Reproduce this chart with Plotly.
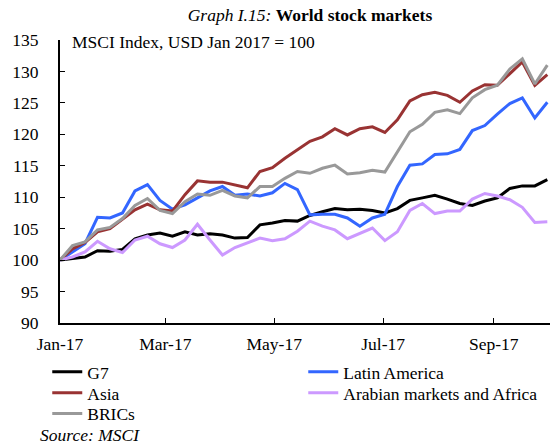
import pandas as pd
import plotly.graph_objs as go

# weekly MSCI indices, USD, Jan 2017 = 100
dates = pd.date_range('2017-01-01', periods=40, freq='7D')

g7 = [100.0, 100.2, 100.5, 101.5, 101.4, 101.7, 103.4, 104.0, 104.3, 103.8,
      104.5, 104.0, 104.2, 104.0, 103.5, 103.6, 105.6, 105.9, 106.3, 106.2,
      107.1, 107.7, 108.2, 108.0, 108.1, 107.9, 107.5, 108.2, 109.5, 109.9,
      110.3, 109.7, 109.0, 108.7, 109.4, 109.9, 111.4, 111.8, 111.8, 112.8]

latin_america = [100.0, 101.3, 102.6, 106.8, 106.7, 107.5, 111.0, 112.0, 109.5, 108.1,
                 108.8, 109.9, 111.0, 111.7, 110.3, 110.5, 110.2, 110.7, 112.2, 111.2,
                 107.2, 107.3, 107.3, 106.7, 105.4, 106.7, 107.3, 111.7, 115.1, 115.3,
                 116.8, 116.9, 117.6, 120.6, 121.4, 123.2, 124.9, 125.8, 122.6, 125.1]

asia = [100.0, 101.8, 102.8, 104.5, 105.0, 106.5, 108.0, 108.9, 108.0, 107.8,
        110.4, 112.6, 112.4, 112.4, 111.9, 111.5, 114.1, 114.7, 116.2, 117.5,
        118.9, 119.6, 120.9, 119.9, 120.9, 121.2, 120.3, 122.3, 125.3, 126.3,
        126.7, 126.2, 125.1, 126.9, 127.9, 127.8, 129.7, 131.5, 127.8, 129.5]

arabian_africa = [100.0, 100.5, 101.3, 103.0, 101.8, 101.2, 103.2, 103.8, 102.6, 102.0,
                  103.2, 105.7, 103.2, 100.8, 102.0, 102.8, 103.5, 103.1, 103.4, 104.6,
                  106.2, 105.4, 104.8, 103.4, 104.2, 105.1, 103.1, 104.5, 107.9, 109.0,
                  107.4, 107.8, 107.8, 109.7, 110.6, 110.2, 109.6, 108.4, 106.0, 106.1]

brics = [100.0, 102.3, 102.9, 104.8, 105.2, 106.6, 108.7, 109.8, 107.9, 107.4,
         109.3, 110.5, 110.3, 111.1, 110.2, 109.9, 111.7, 111.7, 113.0, 114.1,
         113.8, 114.6, 115.1, 113.7, 113.9, 114.3, 114.0, 117.2, 120.4, 121.6,
         123.5, 123.9, 123.3, 125.8, 127.1, 127.8, 130.4, 132.0, 128.0, 131.0]

FONT = 'Liberation Serif'
FS = 17.5

series = [
    ('G7', g7, '#000000', 'legend'),
    ('Latin America', latin_america, '#3366ff', 'legend'),
    ('Asia', asia, '#993333', 'legend2'),
    ('Arabian markets and Africa', arabian_africa, '#cc99ff', 'legend2'),
    ('BRICs', brics, '#999999', 'legend3'),
]

traces = [
    go.Scatter(
        x=dates,
        y=values,
        name=name,
        mode='lines',
        line=dict(color=color, width=3),
        legend=legend,
        cliponaxis=False,
        )
    for name, values, color, legend in series
    ]

# one horizontal legend per row, two entries each
legend_style = dict(
    orientation='h',
    x=-0.026,
    xanchor='left',
    yanchor='middle',
    entrywidth=211,
    bgcolor='rgba(0,0,0,0)',
    font=dict(family=FONT, size=FS, color='black'),
    )

layout = go.Layout(
    width=550,
    height=445,
    margin=dict(l=60, r=0, t=40, b=122, autoexpand=False),
    paper_bgcolor='white',
    plot_bgcolor='white',
    font=dict(family=FONT, size=FS, color='black'),
    title=dict(
        text='<i>Graph I.15:</i> <b>World stock markets</b>',
        x=0.5636,
        xanchor='center',
        y=0.966,
        yanchor='middle',
        font=dict(family=FONT, size=FS, color='black'),
        ),
    xaxis=dict(
        type='date',
        range=['2017-01-01', '2017-10-02 12:00'],
        tick0='2017-01-01',
        dtick='M2',
        tickformat='%b-%y',
        ticks='inside',
        ticklen=5,
        tickwidth=1,
        tickcolor='black',
        showline=True,
        linecolor='black',
        linewidth=2,
        showgrid=False,
        zeroline=False,
        ticklabelstandoff=4,
        ),
    yaxis=dict(
        range=[90, 135],
        dtick=5,
        ticks='inside',
        ticklen=5,
        tickwidth=1,
        tickcolor='black',
        showline=True,
        linecolor='black',
        linewidth=2,
        showgrid=False,
        zeroline=False,
        ticklabelstandoff=16,
        ),
    legend=dict(legend_style, y=-0.173),
    legend2=dict(legend_style, y=-0.247),
    legend3=dict(legend_style, y=-0.320),
    annotations=[
        dict(
            text='MSCI Index, USD Jan 2017 = 100',
            xref='paper', yref='paper',
            x=0.02, y=0.993,
            xanchor='left', yanchor='middle',
            showarrow=False,
            ),
        dict(
            text='<i>Source: MSCI</i>',
            xref='paper', yref='paper',
            x=-0.045, y=-0.396,
            xanchor='left', yanchor='middle',
            showarrow=False,
            ),
        ],
    )

fig = go.Figure(data=traces, layout=layout)
# the page body has a default 8px margin; drop it so the figure fills the window
fig.write_html(
    'out.html',
    config=dict(displayModeBar=False),
    post_script="document.body.style.margin = '0';",
    )
